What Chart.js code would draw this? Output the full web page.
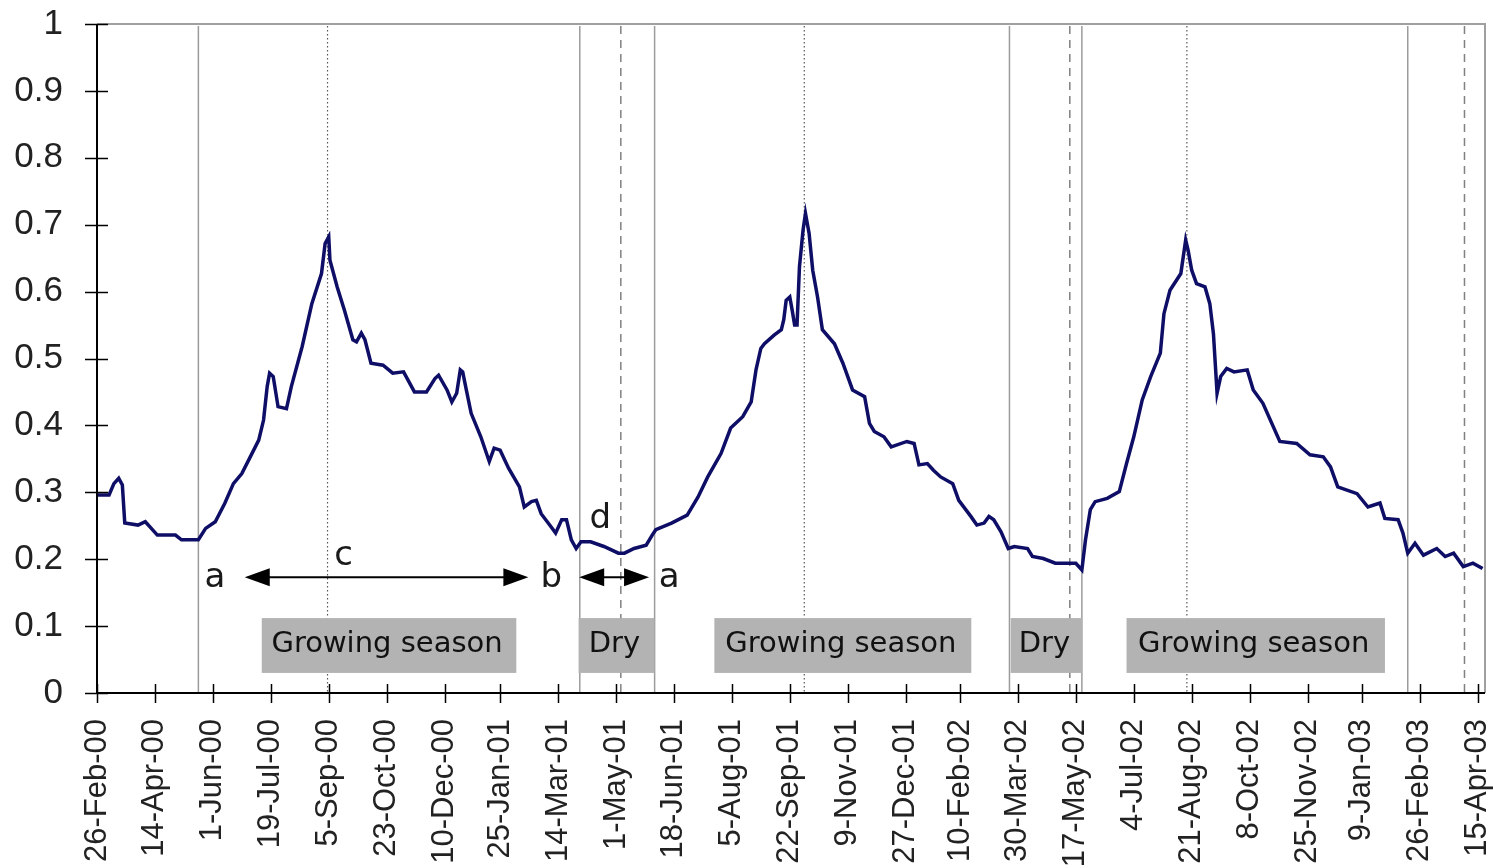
<!DOCTYPE html>
<html>
<head>
<meta charset="utf-8">
<script src="https://cdn.jsdelivr.net/npm/chart.js@4/dist/chart.umd.min.js"></script>
<style>
  html, body { margin: 0; padding: 0; background: #fff; }
  #wrap { width: 1493px; height: 868px; position: relative; }
</style>
</head>
<body>
<div id="wrap"><canvas id="ndviChart"></canvas></div>
<script>
/* Data */

const tickLabels = [
  "26-Feb-00", "14-Apr-00", "1-Jun-00", "19-Jul-00", "5-Sep-00", "23-Oct-00",
  "10-Dec-00", "25-Jan-01", "14-Mar-01", "1-May-01", "18-Jun-01", "5-Aug-01",
  "22-Sep-01", "9-Nov-01", "27-Dec-01", "10-Feb-02", "30-Mar-02", "17-May-02",
  "4-Jul-02", "21-Aug-02", "8-Oct-02", "25-Nov-02", "9-Jan-03", "26-Feb-03", "15-Apr-03"
];

// days since 26-Feb-00
const sampleDays = [
  0, 10, 14, 18, 21, 23, 34, 40, 45, 50, 65, 70, 84, 90, 98, 106, 113, 120, 127, 134,
  138, 141, 143, 146, 150, 157, 161, 170, 178, 186, 189, 192, 193, 199, 205, 212, 215, 219, 222, 227,
  237, 245, 254, 263, 273, 280, 283, 290, 294, 298, 301, 303, 306, 310, 318, 325, 329, 334, 341, 350,
  354, 360, 364, 368, 376, 380, 385, 389, 393, 397, 401, 409, 420, 432, 437, 445, 455, 460, 463, 476,
  489, 498, 506, 517, 525, 535, 542, 546, 550, 553, 561, 567, 569, 571, 574, 576, 578, 580, 582, 585,
  587, 590, 593, 597, 601, 611, 618, 626, 636, 640, 644, 652, 658, 671, 677, 681, 688, 693, 699, 709,
  714, 724, 729, 735, 739, 743, 749, 755, 760, 771, 775, 784, 794, 811, 816, 819, 823, 827, 837, 847,
  853, 859, 866, 873, 881, 884, 889, 898, 902, 904, 907, 911, 918, 922, 925, 927, 928, 931, 936, 942,
  953, 958, 966, 980, 994, 1005, 1016, 1022, 1028, 1044, 1053, 1063, 1067, 1078, 1082, 1086, 1092, 1099, 1110, 1117,
  1124, 1132, 1140, 1148
];

const ndviValues = [
  0.296, 0.296, 0.313, 0.321, 0.311, 0.254, 0.251, 0.256, 0.246, 0.236, 0.236, 0.229, 0.229, 0.246, 0.256, 0.284, 0.313, 0.328, 0.353, 0.378,
  0.408, 0.458, 0.478, 0.473, 0.428, 0.425, 0.458, 0.518, 0.582, 0.627, 0.672, 0.682, 0.647, 0.607, 0.572, 0.528, 0.525, 0.538, 0.528, 0.493,
  0.490, 0.478, 0.480, 0.450, 0.450, 0.470, 0.475, 0.453, 0.435, 0.448, 0.483, 0.480, 0.453, 0.418, 0.383, 0.346, 0.366, 0.363, 0.336, 0.308,
  0.278, 0.286, 0.288, 0.268, 0.249, 0.239, 0.259, 0.259, 0.229, 0.216, 0.226, 0.226, 0.219, 0.209, 0.209, 0.216, 0.221, 0.236, 0.244, 0.254,
  0.266, 0.293, 0.323, 0.358, 0.396, 0.413, 0.435, 0.483, 0.515, 0.522, 0.535, 0.543, 0.558, 0.587, 0.592, 0.572, 0.550, 0.550, 0.637, 0.692,
  0.717, 0.687, 0.632, 0.592, 0.543, 0.522, 0.493, 0.453, 0.443, 0.403, 0.391, 0.383, 0.368, 0.376, 0.373, 0.341, 0.343, 0.333, 0.323, 0.313,
  0.288, 0.264, 0.251, 0.254, 0.264, 0.259, 0.241, 0.216, 0.219, 0.216, 0.204, 0.201, 0.194, 0.194, 0.184, 0.229, 0.274, 0.286, 0.291, 0.301,
  0.343, 0.383, 0.438, 0.473, 0.508, 0.567, 0.602, 0.627, 0.677, 0.662, 0.632, 0.612, 0.607, 0.582, 0.537, 0.478, 0.448, 0.473, 0.485, 0.480,
  0.483, 0.453, 0.433, 0.376, 0.373, 0.356, 0.353, 0.338, 0.308, 0.298, 0.278, 0.284, 0.261, 0.259, 0.239, 0.209, 0.224, 0.206, 0.216, 0.204,
  0.209, 0.189, 0.194, 0.186
];

// season markers, in days since 26-Feb-00
const seasonBounds = [84, 400, 462, 756, 816, 1086];
const peakDays = [191, 586, 903];
const dryMidDays = [434, 806, 1133];

const seasonNames = ["Growing season", "Dry", "Growing season", "Dry", "Growing season"];
const seasonStarts = [136.5, 399, 511.5, 757, 853];
const seasonEnds = [347.4, 461.8, 724.4, 816.2, 1067.1];

/* Tick positions from the labels */

const monthIndex = { Jan: 0, Feb: 1, Mar: 2, Apr: 3, May: 4, Jun: 5, Jul: 6, Aug: 7, Sep: 8, Oct: 9, Nov: 10, Dec: 11 };
const startTime = Date.UTC(2000, 1, 26);

function dayOffset(label) {
  const [d, m, yy] = label.split("-");
  const t = Date.UTC(2000 + Number(yy), monthIndex[m], Number(d));
  return Math.round((t - startTime) / 86400000);
}

const tickDays = tickLabels.map(dayOffset);

/* Drawing helpers */

function vLine(ctx, x, area, color, width, dash) {
  ctx.save();
  ctx.strokeStyle = color;
  ctx.lineWidth = width;
  ctx.setLineDash(dash);
  ctx.beginPath();
  ctx.moveTo(x, area.top + 2);
  ctx.lineTo(x, area.bottom);
  ctx.stroke();
  ctx.restore();
}

function arrowHead(ctx, tipX, y, dir) {
  ctx.beginPath();
  ctx.moveTo(tipX, y);
  ctx.lineTo(tipX - dir * 25, y - 9);
  ctx.lineTo(tipX - dir * 25, y + 9);
  ctx.closePath();
  ctx.fill();
}

function doubleArrow(ctx, x1, x2, y) {
  ctx.save();
  ctx.strokeStyle = "#000";
  ctx.fillStyle = "#000";
  ctx.lineWidth = 2;
  ctx.beginPath();
  ctx.moveTo(x1 + 10, y);
  ctx.lineTo(x2 - 10, y);
  ctx.stroke();
  arrowHead(ctx, x1, y, -1);
  arrowHead(ctx, x2, y, 1);
  ctx.restore();
}

function letter(ctx, text, x, y) {
  ctx.save();
  ctx.fillStyle = "#1a1a1a";
  ctx.font = "34px 'DejaVu Sans'";
  ctx.textAlign = "center";
  ctx.textBaseline = "alphabetic";
  ctx.fillText(text, x, y);
  ctx.restore();
}

const overlayPlugin = {
  id: "overlay",
  beforeDatasetsDraw(chart) {
    const { ctx, chartArea: area, scales: { x, y } } = chart;

    ctx.save();
    ctx.strokeStyle = "#a0a0a0";
    ctx.lineWidth = 2;
    ctx.beginPath();
    ctx.moveTo(area.left, area.top);
    ctx.lineTo(area.right, area.top);
    ctx.lineTo(area.right, area.bottom);
    ctx.stroke();
    ctx.restore();

    seasonBounds.forEach(d => vLine(ctx, x.getPixelForValue(d), area, "#9c9c9c", 1.5, []));
    peakDays.forEach(d => vLine(ctx, x.getPixelForValue(d), area, "#555", 1.2, [1.5, 2.5]));
    dryMidDays.forEach(d => vLine(ctx, x.getPixelForValue(d), area, "#808080", 1.5, [8, 6]));

    // season boxes
    const top = y.getPixelForValue(0.112);
    const bottom = y.getPixelForValue(0.030);
    seasonNames.forEach((name, i) => {
      const left = x.getPixelForValue(seasonStarts[i]);
      const right = x.getPixelForValue(seasonEnds[i]);
      ctx.save();
      ctx.fillStyle = "#b3b3b3";
      ctx.fillRect(left, top, right - left, bottom - top);
      ctx.fillStyle = "#111";
      ctx.font = "29px 'DejaVu Sans'";
      ctx.textAlign = "center";
      ctx.textBaseline = "alphabetic";
      ctx.fillText(name, (left + right) / 2 - 2, top + 34);
      ctx.restore();
    });
  },
  afterDatasetsDraw(chart) {
    const { ctx, scales: { x, y } } = chart;
    const arrowY = y.getPixelForValue(0.173);

    doubleArrow(ctx, x.getPixelForValue(122.4), x.getPixelForValue(357.4), arrowY);
    doubleArrow(ctx, x.getPixelForValue(399.5), x.getPixelForValue(457.4), arrowY);

    letter(ctx, "a", x.getPixelForValue(97.6), arrowY + 10);
    letter(ctx, "c", x.getPixelForValue(204.3), y.getPixelForValue(0.205) + 9);
    letter(ctx, "b", x.getPixelForValue(376.4), arrowY + 10);
    letter(ctx, "a", x.getPixelForValue(474), arrowY + 10);
    letter(ctx, "d", x.getPixelForValue(416.9), y.getPixelForValue(0.247));
  },
  afterDraw(chart) {
    const { ctx, chartArea: area, scales: { x, y } } = chart;
    ctx.save();
    ctx.strokeStyle = "#000";
    ctx.lineWidth = 2;
    ctx.beginPath();
    ctx.moveTo(area.left, area.top);
    ctx.lineTo(area.left, area.bottom);
    ctx.lineTo(area.right, area.bottom);
    ctx.stroke();

    ctx.lineWidth = 1.5;
    ctx.beginPath();
    y.ticks.forEach(t => {
      const py = Math.round(y.getPixelForValue(t.value)) + 0.5;
      ctx.moveTo(area.left - 12, py);
      ctx.lineTo(area.left + 11, py);
    });
    x.ticks.forEach(t => {
      const px = Math.round(x.getPixelForValue(t.value)) + 0.5;
      ctx.moveTo(px, area.bottom - 9);
      ctx.lineTo(px, area.bottom + 10);
    });
    ctx.stroke();
    ctx.restore();
  }
};

/* Chart */

new Chart(document.querySelector("#ndviChart"), {
  type: "line",
  data: {
    datasets: [
      {
        label: "NDVI",
        data: sampleDays.map((d, i) => ({ x: d, y: ndviValues[i] })),
        borderColor: "#0e0e66",
        borderWidth: 3.5,
        pointRadius: 0,
        tension: 0,
        fill: false
      }
    ]
  },
  options: {
    responsive: true,
    maintainAspectRatio: false,
    animation: false,
    layout: {
      padding: { top: 24, right: 8, bottom: 0, left: 0 }
    },
    plugins: {
      legend: { display: false },
      tooltip: { enabled: false }
    },
    scales: {
      x: {
        type: "linear",
        min: 0,
        max: 1150,
        grid: { display: false, drawTicks: false },
        border: { display: false },
        afterBuildTicks: scale => {
          scale.ticks = tickDays.map(v => ({ value: v }));
        },
        afterFit: scale => {
          scale.height = 175;
          scale.paddingLeft = 0;
          scale.paddingRight = 0;
        },
        ticks: {
          autoSkip: false,
          minRotation: 90,
          maxRotation: 90,
          padding: 26,
          color: "#222",
          font: { family: "'Liberation Sans', Arial", size: 31 },
          callback: (value, index) => tickLabels[index]
        }
      },
      y: {
        min: 0,
        max: 1,
        grid: { display: false, drawTicks: false },
        border: { display: false },
        afterFit: scale => {
          scale.width = 97;
          scale.paddingTop = 0;
          scale.paddingBottom = 0;
        },
        ticks: {
          stepSize: 0.1,
          padding: 34,
          color: "#222",
          font: { family: "'Liberation Sans', Arial", size: 35 },
          callback: value => String(Math.round(value * 10) / 10)
        }
      }
    }
  },
  plugins: [overlayPlugin]
});
</script>
</body>
</html>
